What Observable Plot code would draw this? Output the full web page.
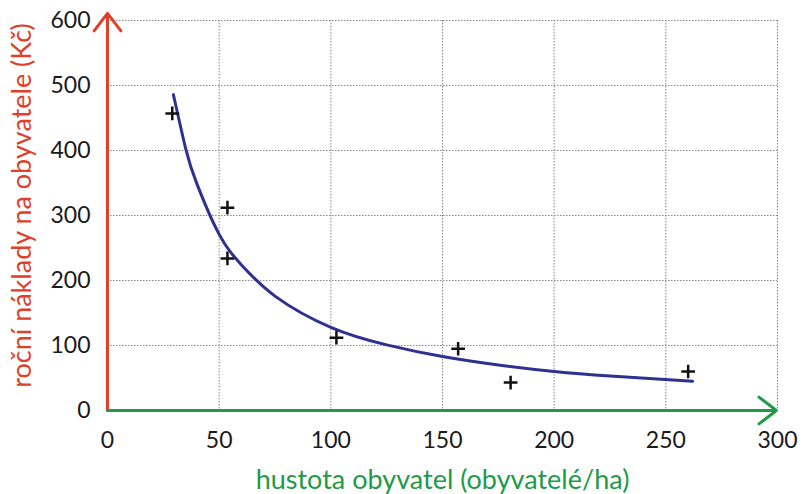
<!DOCTYPE html>
<html>
<head>
<meta charset="utf-8">
<script src="https://cdn.jsdelivr.net/npm/d3@7"></script>
<script src="https://cdn.jsdelivr.net/npm/@observablehq/plot@0.6"></script>
<style>
  html, body { margin: 0; padding: 0; background: #fff; }
</style>
</head>
<body>
<div id="chart"></div>
<script>
// measured points
const density = [29, 53.7, 53.7, 102.5, 157, 180.5, 260];
const cost = [457, 312, 234, 112, 95, 43, 60];
// trend curve
const curveX = [29.5, 35, 40, 50, 60, 75, 100, 125, 150, 175, 200, 225, 262];
const curveY = [486, 403, 349, 271, 224, 176, 128, 101, 83, 70, 60, 53, 45];
const xTicks = [0, 50, 100, 150, 200, 250, 300];
const yTicks = [0, 100, 200, 300, 400, 500, 600];
const xTitle = "hustota obyvatel (obyvatelé/ha)";
const yTitle = "roční náklady na obyvatele (Kč)";

const points = density.map((d, i) => ({x: d, y: cost[i]}));
const curve = curveX.map((d, i) => ({x: d, y: curveY[i]}));

const RED = "#de4029";
const GREEN = "#1f9a48";
const NAVY = "#2e3190";
const FONT = "Lato, 'Open Sans', sans-serif";

const chart = Plot.plot({
  width: 802,
  height: 494,
  marginLeft: 107,
  marginRight: 25,
  marginTop: 20,
  marginBottom: 84,
  style: {fontFamily: FONT, background: "#fff", overflow: "visible"},
  x: {domain: [0, 300], ticks: xTicks},
  y: {domain: [0, 600], ticks: yTicks},
  marks: [
    Plot.gridX(xTicks, {stroke: "#888", strokeOpacity: 1, strokeWidth: 1, strokeDasharray: "1.5,1.5"}),
    Plot.gridY(yTicks, {stroke: "#888", strokeOpacity: 1, strokeWidth: 1, strokeDasharray: "1.5,1.5"}),
    Plot.axisX(xTicks, {tickSize: 0, tickPadding: 21, fontSize: 23, fill: "#1a1a1a", label: null}),
    Plot.axisY(yTicks, {tickSize: 0, tickPadding: 17, fontSize: 23, fill: "#1a1a1a", label: null}),
    Plot.arrow([{x1: 0, y1: 0, x2: 0, y2: 611}], {x1: "x1", y1: "y1", x2: "x2", y2: "y2", stroke: RED, strokeWidth: 3, headLength: 11, headAngle: 75, inset: 0}),
    Plot.arrow([{x1: 0, y1: 0, x2: 299.5, y2: 0}], {x1: "x1", y1: "y1", x2: "x2", y2: "y2", stroke: GREEN, strokeWidth: 3, headLength: 11, headAngle: 75, inset: 0}),
    Plot.line(curve, {x: "x", y: "y", curve: "natural", stroke: NAVY, strokeWidth: 3}),
    Plot.dot(points, {x: "x", y: "y", symbol: "plus", r: 4.5, stroke: "#111", strokeWidth: 2.5}),
    Plot.text([yTitle], {frameAnchor: "left", textAnchor: "middle", lineAnchor: "middle", rotate: -90, dx: -85, dy: -10, fill: RED, fontSize: 27, fontFamily: FONT}),
    Plot.text([xTitle], {frameAnchor: "bottom", textAnchor: "middle", lineAnchor: "middle", dy: 70, fill: GREEN, fontSize: 27, fontFamily: FONT})
  ]
});
document.getElementById("chart").appendChild(chart);
</script>
</body>
</html>
